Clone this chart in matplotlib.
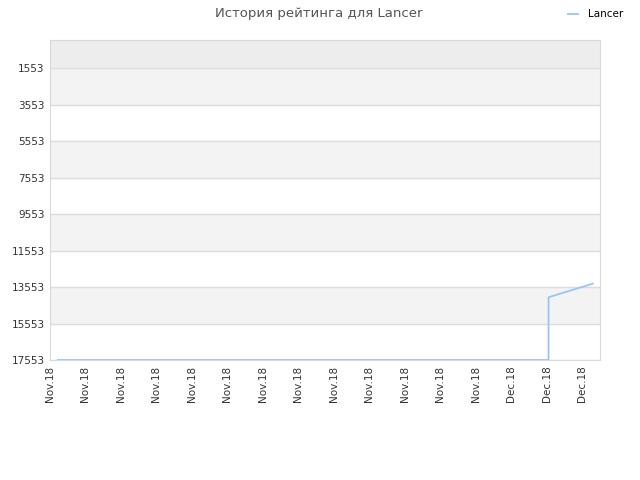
import matplotlib
matplotlib.use("Agg")
import matplotlib.pyplot as plt

# позиции по оси X в днях от начала периода
days = [0.45, 28.1, 28.1, 30.6]
rating = [17553, 17553, 14110, 13365]

y_ticks = [1553, 3553, 5553, 7553, 9553, 11553, 13553, 15553, 17553]
x_ticks = list(range(0, 31, 2))
x_labels = ["Nov.18"] * 13 + ["Dec.18"] * 3

fig = plt.figure(figsize=(6.4, 4.8), dpi=100)
ax = fig.add_axes([50 / 640, 120 / 480, 550 / 640, 320 / 480])

# чередующиеся полосы фона
ax.axhspan(0, y_ticks[0], color="#ededed", zorder=0)
ax.axhspan(y_ticks[0], y_ticks[1], color="#f3f3f3", zorder=0)
for i in range(2, len(y_ticks) - 1):
    if i % 2 == 0:
        ax.axhspan(y_ticks[i], y_ticks[i + 1], color="#f3f3f3", zorder=0)

for t in y_ticks:
    ax.axhline(t, color="#dddddd", lw=1, zorder=1)

ax.plot(days, rating, color="#99c5f5", lw=1.3, label="Lancer", zorder=3)

ax.set_xlim(0, 31)
ax.set_ylim(17553, 0)
ax.set_yticks(y_ticks)
ax.set_yticklabels([str(t) for t in y_ticks])
ax.set_xticks(x_ticks)
ax.set_xticklabels(x_labels, rotation=90)
ax.tick_params(length=0, labelsize=7.5, colors="#333333", pad=4)

for s in ax.spines.values():
    s.set_color("#d9d9d9")

fig.text(0.498, 0.972, "История рейтинга для Lancer", ha="center", va="center",
         fontsize=9.5, color="#555555")
fig.legend(loc="upper right", bbox_to_anchor=(0.988, 1.0), frameon=False,
           fontsize=7.5, handlelength=1.0, handletextpad=0.9)

plt.savefig("out.png")
